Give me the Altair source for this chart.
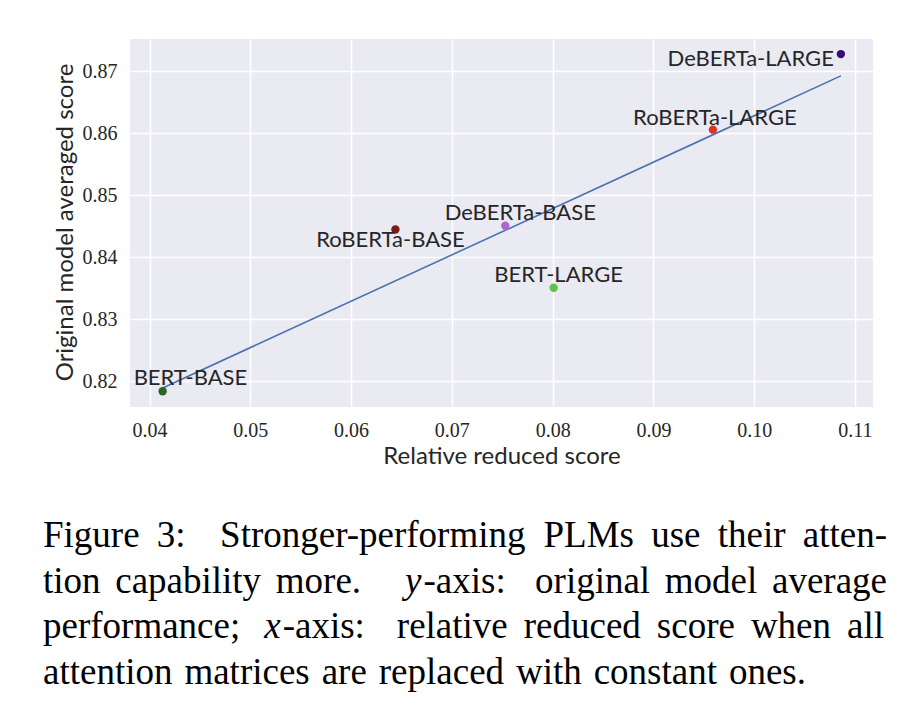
import altair as alt
import pandas as pd

# ---------------- data ----------------
models = ["BERT-BASE", "RoBERTa-BASE", "DeBERTa-BASE", "BERT-LARGE", "RoBERTa-LARGE", "DeBERTa-LARGE"]
relative_reduced = [0.0413, 0.0644, 0.0753, 0.0801, 0.0959, 0.1086]
original_score = [0.8184, 0.8445, 0.8451, 0.8351, 0.8606, 0.8728]
x_ticks = [0.04, 0.05, 0.06, 0.07, 0.08, 0.09, 0.10, 0.11]
y_ticks = [0.82, 0.83, 0.84, 0.85, 0.86, 0.87]

caption_lines = [
    ["Figure", "3:", "Stronger-performing", "PLMs", "use", "their", "atten-"],
    ["tion", "capability", "more.", "*y-axis:", "original", "model", "average"],
    ["performance;", "*x-axis:", "relative", "reduced", "score", "when", "all"],
    ["attention", "matrices", "are", "replaced", "with", "constant", "ones."],
]

df = pd.DataFrame({"model": models, "x": relative_reduced, "y": original_score})

# ---------------- styles / layout ----------------
point_colors = ["#2b651f", "#7e1a12", "#b266cc", "#5cc34a", "#de3329", "#3d0c72"]
W, H = 743, 368
X_DOMAIN = [0.03806, 0.11179]
Y_DOMAIN = [0.81585, 0.87523]
TXT = "#262626"

xs = alt.X("x:Q", scale=alt.Scale(domain=X_DOMAIN, nice=False, zero=False),
           axis=alt.Axis(values=x_ticks, format=".2f", title="Relative reduced score",
                         grid=True, gridColor="white", gridWidth=1.5, domain=False, ticks=False,
                         labelFont="Liberation Serif", labelFontSize=20, labelColor=TXT,
                         labelPadding=13, titleFont="Lato", titleFontSize=24, titleColor=TXT,
                         titleFontWeight="normal", titleBaseline="alphabetic", titleY=56))
ys = alt.Y("y:Q", scale=alt.Scale(domain=Y_DOMAIN, nice=False, zero=False),
           axis=alt.Axis(values=y_ticks, format=".2f", title="Original model averaged score",
                         grid=True, gridColor="white", gridWidth=1.5, domain=False, ticks=False,
                         labelFont="Liberation Serif", labelFontSize=20, labelColor=TXT,
                         labelPadding=13, titleFont="Lato", titleFontSize=24, titleColor=TXT,
                         titleFontWeight="normal", titleBaseline="alphabetic", titleX=-58,
                         titleY=183))

base = alt.Chart(df)

line = base.transform_regression("x", "y").mark_line(color="#4c72b0", strokeWidth=1.6).encode(x=xs, y=ys)

points = base.mark_circle(size=70, opacity=1).encode(
    x=xs, y=ys,
    color=alt.Color("model:N", scale=alt.Scale(domain=models, range=point_colors), legend=None),
)

label_style = {
    "BERT-BASE": dict(align="left", dx=-29, dy=-6),
    "RoBERTa-BASE": dict(align="center", dx=-5, dy=18),
    "DeBERTa-BASE": dict(align="center", dx=15, dy=-6),
    "BERT-LARGE": dict(align="center", dx=5, dy=-6),
    "RoBERTa-LARGE": dict(align="center", dx=2, dy=-5),
    "DeBERTa-LARGE": dict(align="right", dx=-7, dy=12),
}
labels = []
for m in models:
    st = label_style[m]
    labels.append(
        base.transform_filter(alt.datum.model == m).mark_text(
            font="Lato", fontSize=22, color=TXT, baseline="alphabetic", **st
        ).encode(x=xs, y=ys, text="model:N")
    )

# ---------------- caption: justified layout using Times metrics ----------------
TIMES = {
    " ": 250, "a": 444, "b": 500, "c": 444, "d": 500, "e": 444, "f": 333, "g": 500, "h": 500,
    "i": 278, "j": 278, "k": 500, "l": 278, "m": 778, "n": 500, "o": 500, "p": 500, "q": 500,
    "r": 333, "s": 389, "t": 278, "u": 500, "v": 500, "w": 722, "x": 500, "y": 500, "z": 444,
    "F": 556, "L": 611, "M": 889, "P": 556, "S": 556, "3": 500, ":": 278, ";": 278, ".": 250,
    "-": 333,
}
CAP_FS = 37
ITALIC_W = 0.50  # em width of italic math letter


def tw(s):
    return sum(TIMES.get(c, 500) for c in s) / 1000.0 * CAP_FS


cap_left = 43
cap_right = [887, 887, 884, 806]
cap_base_y = [547, 592.5, 638, 683.5]
cap_rows = []
for li, words in enumerate(caption_lines):
    widths = []
    for w in words:
        if w.startswith("*"):
            widths.append(ITALIC_W * CAP_FS + tw(w[2:]))
        else:
            widths.append(tw(w))
    weights = []
    for w in words[:-1]:
        ch = w[-1]
        weights.append(3.0 if ch == "." else 2.0 if ch == ":" else 1.5 if ch == ";" else 1.0)
    free = (cap_right[li] - cap_left) - sum(widths)
    unit = free / sum(weights)
    x = cap_left
    for wi, w in enumerate(words):
        if w.startswith("*"):
            cap_rows.append({"w": w[1], "px": x - 130, "py": cap_base_y[li] - 39, "it": True})
            cap_rows.append({"w": w[2:], "px": x + ITALIC_W * CAP_FS - 130,
                             "py": cap_base_y[li] - 39, "it": False})
        else:
            cap_rows.append({"w": w, "px": x - 130, "py": cap_base_y[li] - 39, "it": False})
        x += widths[wi]
        if wi < len(weights):
            x += unit * weights[wi]

cap_df = pd.DataFrame(cap_rows)
cap_base = alt.Chart(cap_df)
cap_normal = cap_base.transform_filter("!datum.it").mark_text(
    font="Liberation Serif", fontSize=CAP_FS, color="black", align="left", baseline="alphabetic"
).encode(x=alt.X("px:Q", scale=None), y=alt.Y("py:Q", scale=None), text="w:N")
cap_italic = cap_base.transform_filter("datum.it").mark_text(
    font="Liberation Serif", fontSize=CAP_FS, fontStyle="italic", color="black", align="left",
    baseline="alphabetic"
).encode(x=alt.X("px:Q", scale=None), y=alt.Y("py:Q", scale=None), text="w:N")

chart = alt.layer(line, points, *labels, cap_normal, cap_italic).properties(
    width=W, height=H,
    autosize=alt.AutoSizeParams(type="none"),
    padding={"left": 122, "top": 31, "right": 33, "bottom": 311},
    background="white",
).configure_view(fill="#eaeaf2", stroke=None)

chart.save("out.html", embed_options={"renderer": "svg", "actions": False})
